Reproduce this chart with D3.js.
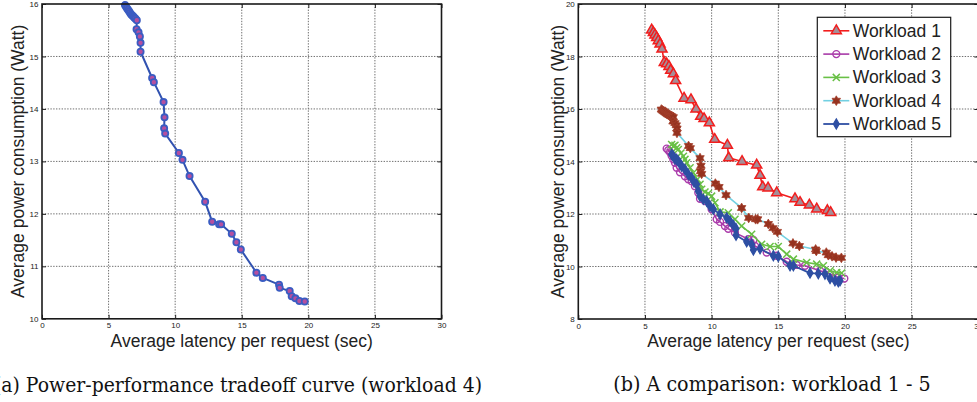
<!DOCTYPE html>
<html>
<head>
<meta charset="utf-8">
<script src="https://cdn.jsdelivr.net/npm/d3@7"></script>
<style>
  html, body { margin: 0; padding: 0; background: #fff; overflow: hidden; }
  svg { display: block; }
</style>
</head>
<body>
<svg id="chart" width="977" height="402"></svg>
<script>
// ---------------- DATA ----------------
const xTicks = [0, 5, 10, 15, 20, 25, 30];
const yTicksLeft = [10, 11, 12, 13, 14, 15, 16];
const yTicksRight = [8, 10, 12, 14, 16, 18, 20];
const xLabel = "Average latency per request (sec)";
const yLabel = "Average power consumption (Watt)";
const captionA = "(a)  Power-performance tradeoff curve (workload 4)";
const captionB = "(b)  A comparison: workload 1 - 5";
const seriesNames = ["Workload 1", "Workload 2", "Workload 3", "Workload 4", "Workload 5"];

const workload1 = [[5.5,19.01],[5.63,18.91],[5.75,18.82],[5.88,18.72],[6.0,18.6],[6.13,18.47],[6.28,18.28],[6.45,17.77],[6.63,17.72],[6.8,17.62],[6.93,17.47],[7.13,17.34],[7.3,17.08],[7.93,16.41],[8.45,16.35],[8.83,16.0],[9.18,15.72],[9.43,15.63],[9.83,15.47],[10.23,14.84],[11.18,14.62],[11.28,14.14],[12.28,14.0],[13.38,13.86],[13.63,13.47],[13.83,13.03],[14.23,12.99],[14.88,12.81],[16.25,12.58],[16.63,12.44],[17.33,12.34],[17.88,12.19],[18.68,12.13],[18.93,12.05]];

const workload2 = [[6.63,14.49],[6.75,14.43],[6.88,14.35],[7.0,14.22],[7.13,14.08],[7.25,13.95],[7.38,13.76],[7.63,13.59],[8.0,13.44],[8.25,13.32],[8.5,13.25],[8.75,13.06],[9.0,12.81],[9.13,12.58],[9.5,12.49],[10.0,12.18],[10.38,11.8],[10.63,11.7],[11.0,11.54],[11.25,11.44],[11.75,11.29],[12.75,11.04],[13.13,11.01],[13.25,10.78],[14.13,10.53],[14.88,10.41],[15.63,10.18],[16.38,10.06],[17.0,10.03],[18.13,9.84],[18.88,9.71],[19.5,9.58],[19.95,9.54]];

const workload3 = [[7.0,14.65],[7.13,14.58],[7.25,14.62],[7.38,14.52],[7.5,14.46],[7.7,14.32],[7.88,14.2],[8.0,14.08],[8.13,13.95],[8.38,13.76],[8.63,13.57],[8.93,13.32],[9.13,13.13],[9.25,12.94],[9.5,12.84],[9.75,12.78],[10.0,12.68],[10.25,12.43],[10.63,12.08],[11.25,12.05],[11.75,11.8],[12.25,11.54],[13.0,11.23],[13.75,10.85],[14.38,10.76],[15.0,10.76],[15.63,10.47],[16.13,10.28],[17.13,10.15],[17.88,10.09],[18.38,10.03],[18.88,9.84],[19.38,9.77],[19.75,9.75]];

const workload4 = [[6.23,15.98],[6.3,15.95],[6.38,15.92],[6.46,15.89],[6.54,15.86],[6.62,15.83],[6.7,15.8],[6.78,15.78],[6.86,15.76],[6.94,15.74],[7.02,15.72],[7.12,15.69],[7.1,15.52],[7.25,15.46],[7.35,15.38],[7.4,15.26],[7.4,15.09],[8.27,14.59],[8.4,14.51],[9.13,14.13],[9.2,13.84],[9.17,13.63],[9.25,13.53],[10.28,13.16],[10.55,13.03],[11.08,12.72],[12.25,12.23],[12.78,11.85],[13.3,11.8],[13.45,11.8],[14.25,11.62],[14.6,11.46],[14.93,11.32],[16.1,10.88],[16.58,10.78],[17.8,10.65],[17.85,10.59],[18.6,10.53],[18.75,10.43],[19.03,10.39],[19.33,10.34],[19.73,10.33]];

const workload5 = [[7.0,14.27],[7.13,14.2],[7.25,14.1],[7.38,14.08],[7.5,14.01],[7.63,13.92],[7.75,13.82],[8.0,13.7],[8.25,13.51],[8.5,13.38],[8.68,13.22],[8.88,13.13],[9.0,12.87],[9.13,12.68],[9.38,12.56],[9.63,12.49],[9.88,12.3],[10.13,12.18],[10.63,11.99],[11.13,11.86],[11.38,11.73],[11.63,11.57],[11.83,11.44],[11.83,11.19],[12.63,10.94],[13.0,10.85],[13.13,10.63],[13.63,10.68],[14.63,10.41],[15.0,10.38],[15.88,10.03],[16.13,10.03],[17.38,9.75],[18.0,9.73],[18.5,9.71],[18.88,9.54],[19.25,9.46],[19.5,9.42],[19.63,9.46]];

// ---------------- SETUP ----------------
const svg = d3.select("#chart");
const SANS = "'Liberation Sans', Arial, Helvetica, sans-serif";
const SERIF = "'DejaVu Serif', 'Liberation Serif', serif";

const hexagram = {
  draw(ctx, size) {
    const R = Math.sqrt(size) * 0.75, r = R / Math.sqrt(3);
    for (let i = 0; i < 12; i++) {
      const a = -Math.PI / 2 + i * Math.PI / 6;
      const rr = i % 2 === 0 ? R : r;
      const px = rr * Math.cos(a), py = rr * Math.sin(a);
      if (i === 0) ctx.moveTo(px, py); else ctx.lineTo(px, py);
    }
    ctx.closePath();
  }
};

const styles = [
  { line: "#f21d1d", width: 1.6, type: d3.symbolTriangle, size: 44, fill: "#a58e98", stroke: "#f21d1d", sw: 1.5 },
  { line: "#a83aa8", width: 1.6, type: d3.symbolCircle, size: 38, fill: "none", stroke: "#ab3cab", sw: 1.4 },
  { line: "#69c046", width: 1.6, type: d3.symbolX, size: 34, fill: "none", stroke: "#69c046", sw: 1.5 },
  { line: "#72d0e2", width: 1.6, type: hexagram, size: 42, fill: "#95321f", stroke: "#a4402c", sw: 0.8 },
  { line: "#2e4fa3", width: 1.8, type: d3.symbolDiamond, size: 30, fill: "#2e4fa3", stroke: "#2e4fa3", sw: 1.2 }
];

const fmtInt = d3.format("d");

function frame(g, x, y, yTicks) {
  const [x0, x1] = x.range();
  const [y0, y1] = y.range();
  const grid = g.append("g");
  grid.selectAll("line.gx").data(xTicks.slice(1, -1)).join("line")
    .attr("x1", d => x(d)).attr("x2", d => x(d)).attr("y1", y1).attr("y2", y0)
    .attr("stroke", "#6f6f6f").attr("stroke-width", 1).attr("stroke-dasharray", "1.4,1.4");
  grid.selectAll("line.gy").data(yTicks.slice(1, -1)).join("line")
    .attr("y1", d => y(d)).attr("y2", d => y(d)).attr("x1", x0).attr("x2", x1)
    .attr("stroke", "#6f6f6f").attr("stroke-width", 1).attr("stroke-dasharray", "1.4,1.4");
}

function axes(g, x, y, yTicks) {
  const [x0, x1] = x.range();
  const [y0, y1] = y.range();
  const ax = [
    g.append("g").attr("transform", `translate(0,${y0})`).call(d3.axisBottom(x).tickValues(xTicks).tickFormat(fmtInt).tickSizeInner(-4).tickSizeOuter(0).tickPadding(4)),
    g.append("g").attr("transform", `translate(0,${y1})`).call(d3.axisTop(x).tickValues(xTicks).tickSizeInner(-4).tickSizeOuter(0).tickFormat("")),
    g.append("g").attr("transform", `translate(${x0},0)`).call(d3.axisLeft(y).tickValues(yTicks).tickFormat(fmtInt).tickSizeInner(-4).tickSizeOuter(0).tickPadding(3.5)),
    g.append("g").attr("transform", `translate(${x1},0)`).call(d3.axisRight(y).tickValues(yTicks).tickSizeInner(-4).tickSizeOuter(0).tickFormat(""))
  ];
  ax.forEach(a => {
    a.select(".domain").remove();
    a.selectAll(".tick line").attr("stroke", "#222").attr("stroke-width", 1);
    a.selectAll("text").attr("font-family", SANS).attr("font-size", 8).attr("fill", "#222");
  });
  g.append("rect").attr("x", x0).attr("y", y1).attr("width", x1 - x0).attr("height", y0 - y1)
    .attr("fill", "none").attr("stroke", "#1a1a1a").attr("stroke-width", 1.6);
  g.append("text").attr("x", (x0 + x1) / 2).attr("y", 346.7).attr("text-anchor", "middle")
    .attr("font-family", SANS).attr("font-size", 17.5).attr("fill", "#222").text(xLabel);
}

function yAxisLabel(g, xpos, y) {
  const [y0, y1] = y.range();
  g.append("text").attr("transform", `translate(${xpos},${(y0 + y1) / 2}) rotate(-90)`)
    .attr("text-anchor", "middle").attr("font-family", SANS).attr("font-size", 17.5).attr("fill", "#222").text(yLabel);
}

// ---------------- LEFT PANEL ----------------
const xL = d3.scaleLinear([0, 30], [42, 441.5]);
const yL = d3.scaleLinear([10, 16], [318.8, 4]);
const gL = svg.append("g");
frame(gL, xL, yL, yTicksLeft);
const lineL = d3.line().x(d => xL(d[0])).y(d => yL(d[1]));
gL.append("path").datum(workload4).attr("d", lineL).attr("fill", "none")
  .attr("stroke", "#3152b0").attr("stroke-width", 2);
gL.selectAll("circle.pt").data(workload4).join("circle")
  .attr("cx", d => xL(d[0])).attr("cy", d => yL(d[1])).attr("r", 3.1)
  .attr("fill", "#b54f9f").attr("stroke", "#3a5cc2").attr("stroke-width", 1.8);
axes(gL, xL, yL, yTicksLeft);
yAxisLabel(gL, 24, yL);
gL.append("text").attr("x", -6).attr("y", 391.5).attr("font-family", SERIF).attr("font-size", 19.5)
  .attr("fill", "#111").attr("textLength", 488).attr("lengthAdjust", "spacingAndGlyphs").text(captionA);

// ---------------- RIGHT PANEL ----------------
const xR = d3.scaleLinear([0, 30], [578.3, 978.3]);
const yR = d3.scaleLinear([8, 20], [319, 4]);
const gR = svg.append("g");
frame(gR, xR, yR, yTicksRight);
const lineR = d3.line().x(d => xR(d[0])).y(d => yR(d[1]));
const allSeries = [workload1, workload2, workload3, workload4, workload5];
allSeries.forEach((data, i) => {
  const s = styles[i];
  const sg = gR.append("g");
  sg.append("path").datum(data).attr("d", lineR).attr("fill", "none")
    .attr("stroke", s.line).attr("stroke-width", s.width).attr("stroke-linejoin", "round");
  sg.selectAll("path.m").data(data).join("path").attr("class", "m")
    .attr("transform", d => `translate(${xR(d[0])},${yR(d[1])})`)
    .attr("d", d3.symbol(s.type, s.size))
    .attr("fill", s.fill).attr("stroke", s.stroke).attr("stroke-width", s.sw);
});
axes(gR, xR, yR, yTicksRight);
yAxisLabel(gR, 564, yR);

// legend
const lg = gR.append("g");
lg.append("rect").attr("x", 817.3).attr("y", 17.3).attr("width", 133.4).attr("height", 119.4)
  .attr("fill", "#fff").attr("stroke", "#1a1a1a").attr("stroke-width", 1.2);
seriesNames.forEach((name, i) => {
  const s = styles[i];
  const cy = 30.8 + i * 23.3;
  lg.append("line").attr("x1", 823.3).attr("x2", 849.3).attr("y1", cy).attr("y2", cy)
    .attr("stroke", s.line).attr("stroke-width", s.width);
  lg.append("path").attr("transform", `translate(836.3,${cy})`).attr("d", d3.symbol(s.type, s.size))
    .attr("fill", s.fill).attr("stroke", s.stroke).attr("stroke-width", s.sw);
  lg.append("text").attr("x", 852.7).attr("y", cy + 6).attr("font-family", SANS).attr("font-size", 17.5)
    .attr("fill", "#222").text(name);
});

gR.append("text").attr("x", 613.3).attr("y", 390.5).attr("font-family", SERIF).attr("font-size", 19.5)
  .attr("fill", "#111").attr("textLength", 317.4).attr("lengthAdjust", "spacingAndGlyphs").text(captionB);
</script>
</body>
</html>
